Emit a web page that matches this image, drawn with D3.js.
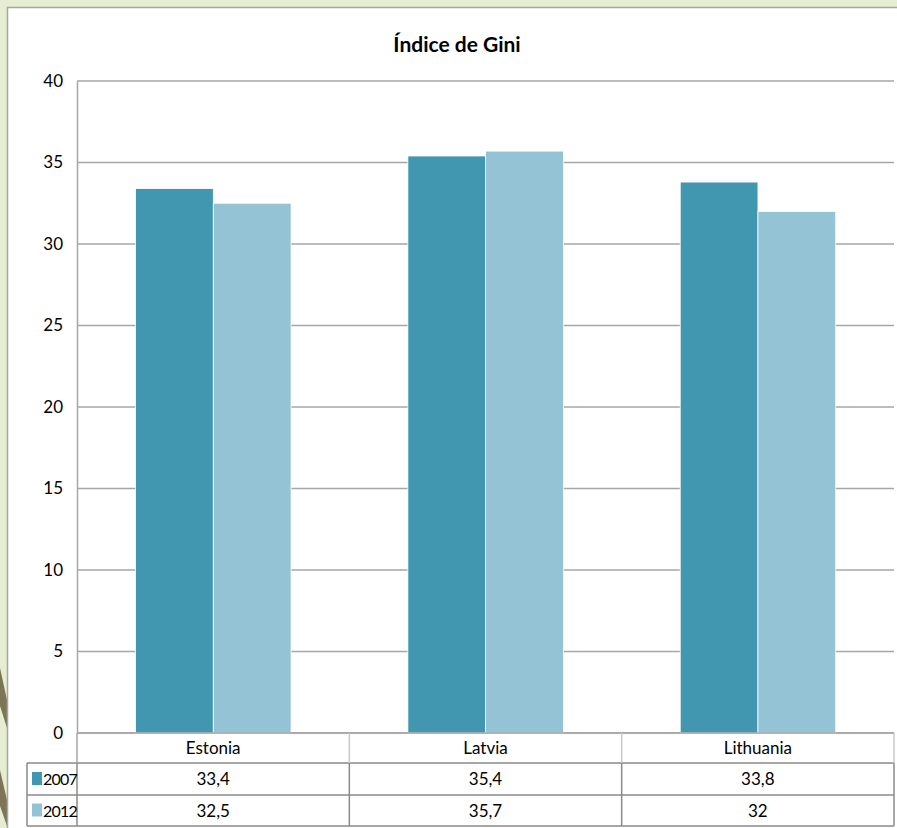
<!DOCTYPE html>
<html>
<head>
<meta charset="utf-8">
<script src="https://cdn.jsdelivr.net/npm/d3@7"></script>
<style>
  body { margin: 0; background: #e5ecd0; }
  svg { display: block; }
  text { font-family: Lato, "Open Sans", sans-serif; fill: #000; }
</style>
</head>
<body>
<svg id="chart"></svg>
<script>
var w = 897, h = 828;

// data
var categories = ["Estonia", "Latvia", "Lithuania"];
var series = ["2007", "2012"];
var values2007 = [33.4, 35.4, 33.8];
var values2012 = [32.5, 35.7, 32];
var labels2007 = ["33,4", "35,4", "33,8"];
var labels2012 = ["32,5", "35,7", "32"];
var yTicks = [0, 5, 10, 15, 20, 25, 30, 35, 40];
var colors = ["#4297b0", "#93c3d5"];

var plot = {left: 77, right: 894, top: 81, bottom: 733};

var svg = d3.select("#chart")
    .attr("width", w)
    .attr("height", h);

// background decoration
var bg = svg.append("g");
bg.append("rect").attr("width", w).attr("height", h).attr("fill", "#e6edd2");
bg.append("path")
    .attr("d", "M0,668 L7,700 L7,728 L0,706 Z")
    .attr("fill", "#7c7656");
bg.append("path")
    .attr("d", "M0,770 L7,800 L7,826 L0,806 Z")
    .attr("fill", "#7c7656");

// chart box
svg.append("rect")
    .attr("x", 7.5).attr("y", 7.5)
    .attr("width", w).attr("height", h)
    .attr("fill", "#fff")
    .attr("stroke", "#a5a5a5")
    .attr("stroke-width", 1.5);

// title
svg.append("text")
    .attr("x", 457).attr("y", 52)
    .attr("text-anchor", "middle")
    .style("font-size", "21px")
    .style("font-weight", "bold")
    .text("Índice de Gini");

var x = d3.scaleBand()
    .domain(categories)
    .range([plot.left, plot.right]);

var xSub = d3.scaleBand()
    .domain(series)
    .range([x.bandwidth() * 0.215, x.bandwidth() * 0.786]);

var y = d3.scaleLinear()
    .domain([0, 40])
    .range([plot.bottom, plot.top]);

// gridlines
svg.append("g").selectAll("line")
    .data(yTicks)
    .enter()
    .append("line")
    .attr("x1", plot.left).attr("x2", plot.right)
    .attr("y1", function(d) { return y(d); })
    .attr("y2", function(d) { return y(d); })
    .attr("stroke", "#a6a6a6")
    .attr("stroke-width", 1.5);

// y axis
var yAxis = svg.append("g")
    .attr("transform", "translate(" + plot.left + ",0)")
    .call(d3.axisLeft(y).tickValues(yTicks).tickSize(0).tickPadding(14));
yAxis.select(".domain").attr("stroke", "#a6a6a6").attr("stroke-width", 1.5);
yAxis.selectAll("text").style("font-size", "17px").style("font-family", "Lato, sans-serif");

// bars
var rows = categories.map(function(c, i) {
  return {cat: c, vals: [values2007[i], values2012[i]]};
});

var groups = svg.append("g").selectAll("g")
    .data(rows)
    .enter()
    .append("g")
    .attr("transform", function(d) { return "translate(" + x(d.cat) + ",0)"; });

groups.selectAll("rect")
    .data(function(d) { return d.vals.map(function(v, j) { return {s: series[j], v: v}; }); })
    .enter()
    .append("rect")
    .attr("x", function(d) { return xSub(d.s); })
    .attr("width", xSub.bandwidth())
    .attr("y", function(d) { return y(d.v); })
    .attr("height", function(d) { return y(0) - y(d.v); })
    .attr("fill", function(d, j) { return colors[j]; })
    .attr("stroke", "#fff")
    .attr("stroke-width", 0.8);

// data table
var rowTop = [733, 763, 795], rowBottom = 826;
var legendLeft = 27;
var tbl = svg.append("g");

// horizontal lines
tbl.append("line").attr("x1", plot.left).attr("x2", plot.right)
    .attr("y1", rowTop[0]).attr("y2", rowTop[0]).attr("stroke", "#a6a6a6").attr("stroke-width", 1.5);
[rowTop[1], rowTop[2], rowBottom].forEach(function(yy) {
  tbl.append("line").attr("x1", legendLeft).attr("x2", plot.right)
      .attr("y1", yy).attr("y2", yy).attr("stroke", "#8a8a8a").attr("stroke-width", 1.5);
});
// verticals in the category row
categories.forEach(function(c, i) {
  tbl.append("line").attr("x1", x(c)).attr("x2", x(c))
      .attr("y1", rowTop[0]).attr("y2", rowTop[1])
      .attr("stroke", i === 0 ? "#a6a6a6" : "#c8c8c8").attr("stroke-width", 1.5);
});
tbl.append("line").attr("x1", plot.right).attr("x2", plot.right)
    .attr("y1", rowTop[0]).attr("y2", rowTop[1]).attr("stroke", "#c8c8c8").attr("stroke-width", 1.5);
// verticals in the value rows
[legendLeft].concat(categories.map(function(c) { return x(c); })).concat([plot.right]).forEach(function(xx) {
  tbl.append("line").attr("x1", xx).attr("x2", xx)
      .attr("y1", rowTop[1]).attr("y2", rowBottom)
      .attr("stroke", "#8a8a8a").attr("stroke-width", 1.5);
});

// category labels
tbl.selectAll("text.cat")
    .data(categories)
    .enter()
    .append("text")
    .attr("class", "cat")
    .attr("x", function(d) { return x(d) + x.bandwidth() / 2; })
    .attr("y", (rowTop[0] + rowTop[1]) / 2 + 6)
    .attr("text-anchor", "middle")
    .style("font-size", "17px")
    .text(function(d) { return d; });

// value rows
var tableRows = [labels2007, labels2012];
var rowY = [(rowTop[1] + rowTop[2]) / 2 + 6, (rowTop[2] + rowBottom) / 2 + 6];
tableRows.forEach(function(lbls, r) {
  tbl.append("rect")
      .attr("x", 32).attr("y", rowY[r] - 13)
      .attr("width", 10).attr("height", 13)
      .attr("fill", colors[r]);
  tbl.append("text")
      .attr("x", 43).attr("y", rowY[r])
      .style("font-size", "16px")
      .style("letter-spacing", "-0.8px")
      .text(series[r]);
  tbl.selectAll("text.v" + r)
      .data(lbls)
      .enter()
      .append("text")
      .attr("class", "v" + r)
      .attr("x", function(d, i) { return x(categories[i]) + x.bandwidth() / 2; })
      .attr("y", rowY[r])
      .attr("text-anchor", "middle")
      .style("font-size", "17px")
      .text(function(d) { return d; });
});
</script>
</body>
</html>
